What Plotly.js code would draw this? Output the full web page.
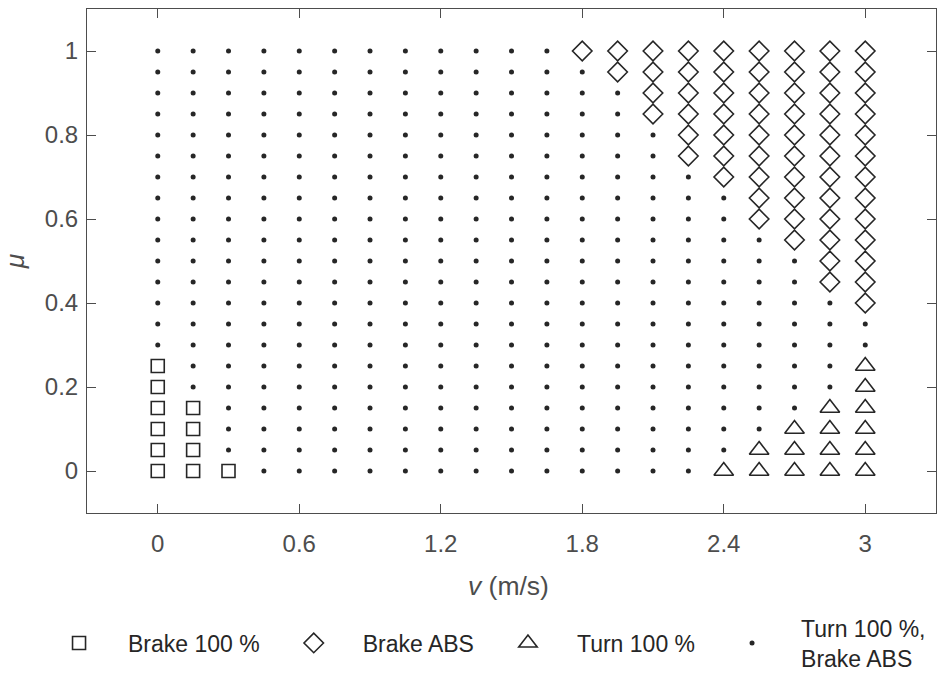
<!DOCTYPE html>
<html><head><meta charset="utf-8">
<script src="https://cdn.plot.ly/plotly-3.0.1.min.js"></script>
<style>html,body{margin:0;padding:0;background:#fff;} #chart{width:937px;height:677px;}</style>
</head><body><div id="chart"></div>
<script>
// grid of simulated speeds and friction coefficients
const vGrid = [0, 0.15, 0.3, 0.45, 0.6, 0.75, 0.9, 1.05, 1.2, 1.35, 1.5, 1.65, 1.8, 1.95, 2.1, 2.25, 2.4, 2.55, 2.7, 2.85, 3.0];
const muGrid = [0, 0.05, 0.1, 0.15, 0.2, 0.25, 0.3, 0.35, 0.4, 0.45, 0.5, 0.55, 0.6, 0.65, 0.7, 0.75, 0.8, 0.85, 0.9, 0.95, 1.0];

// Brake 100 %
const brakeFullV  = [0, 0, 0, 0, 0, 0, 0.15, 0.15, 0.15, 0.15, 0.3];
const brakeFullMu = [0, 0.05, 0.1, 0.15, 0.2, 0.25, 0, 0.05, 0.1, 0.15, 0];

// Brake ABS
const brakeAbsV = [
  1.8,
  1.95, 1.95,
  2.1, 2.1, 2.1, 2.1,
  2.25, 2.25, 2.25, 2.25, 2.25, 2.25,
  2.4, 2.4, 2.4, 2.4, 2.4, 2.4, 2.4,
  2.55, 2.55, 2.55, 2.55, 2.55, 2.55, 2.55, 2.55, 2.55,
  2.7, 2.7, 2.7, 2.7, 2.7, 2.7, 2.7, 2.7, 2.7, 2.7,
  2.85, 2.85, 2.85, 2.85, 2.85, 2.85, 2.85, 2.85, 2.85, 2.85, 2.85, 2.85,
  3.0, 3.0, 3.0, 3.0, 3.0, 3.0, 3.0, 3.0, 3.0, 3.0, 3.0, 3.0, 3.0
];
const brakeAbsMu = [
  1.0,
  0.95, 1.0,
  0.85, 0.9, 0.95, 1.0,
  0.75, 0.8, 0.85, 0.9, 0.95, 1.0,
  0.7, 0.75, 0.8, 0.85, 0.9, 0.95, 1.0,
  0.6, 0.65, 0.7, 0.75, 0.8, 0.85, 0.9, 0.95, 1.0,
  0.55, 0.6, 0.65, 0.7, 0.75, 0.8, 0.85, 0.9, 0.95, 1.0,
  0.45, 0.5, 0.55, 0.6, 0.65, 0.7, 0.75, 0.8, 0.85, 0.9, 0.95, 1.0,
  0.4, 0.45, 0.5, 0.55, 0.6, 0.65, 0.7, 0.75, 0.8, 0.85, 0.9, 0.95, 1.0
];

// Turn 100 %
const turnFullV  = [2.4, 2.55, 2.55, 2.7, 2.7, 2.7, 2.85, 2.85, 2.85, 2.85, 3.0, 3.0, 3.0, 3.0, 3.0, 3.0];
const turnFullMu = [0, 0, 0.05, 0, 0.05, 0.1, 0, 0.05, 0.1, 0.15, 0, 0.05, 0.1, 0.15, 0.2, 0.25];

// tick labels
const xTickVals = [0, 0.6, 1.2, 1.8, 2.4, 3];
const xTickText = ['0', '0.6', '1.2', '1.8', '2.4', '3'];
const yTickVals = [0, 0.2, 0.4, 0.6, 0.8, 1];
const yTickText = ['0', '0.2', '0.4', '0.6', '0.8', '1'];

const seriesNames = ['Brake 100 %', 'Brake ABS', 'Turn 100 %', 'Turn 100 %,<br>Brake ABS'];

// remaining grid points: Turn 100 %, Brake ABS
const key = (v, m) => v.toFixed(2) + '_' + m.toFixed(2);
const taken = new Set();
[[brakeFullV, brakeFullMu], [brakeAbsV, brakeAbsMu], [turnFullV, turnFullMu]].forEach(([vs, ms]) => {
  vs.forEach((v, i) => taken.add(key(v, ms[i])));
});
const bothV = [], bothMu = [];
vGrid.forEach(v => muGrid.forEach(m => {
  if (!taken.has(key(v, m))) { bothV.push(v); bothMu.push(m); }
}));

const ink = '#262626';
const axisCol = '#4d4d4d';
const font = 'Liberation Sans, Arial, Helvetica, sans-serif';

const traces = [
  {x: brakeFullV, y: brakeFullMu, name: seriesNames[0], type: 'scatter', mode: 'markers', legend: 'legend',
   marker: {symbol: 'square-open', size: 13, color: ink, line: {width: 1.6, color: ink}}},
  {x: brakeAbsV, y: brakeAbsMu, name: seriesNames[1], type: 'scatter', mode: 'markers', legend: 'legend',
   marker: {symbol: 'diamond-open', size: 15, color: ink, line: {width: 1.6, color: ink}}},
  {x: turnFullV, y: turnFullMu, name: seriesNames[2], type: 'scatter', mode: 'markers', legend: 'legend',
   marker: {symbol: 'triangle-up-open', size: 17, color: ink, line: {width: 1.6, color: ink}}},
  {x: bothV, y: bothMu, name: seriesNames[3], type: 'scatter', mode: 'markers', legend: 'legend2',
   marker: {symbol: 'circle', size: 5, color: ink, line: {width: 0}}}
];

const axisBase = {
  ticks: 'inside', ticklen: 9, tickwidth: 1, tickcolor: axisCol,
  showline: true, linecolor: axisCol, linewidth: 1, mirror: 'allticks',
  showgrid: false, zeroline: false,
  tickfont: {family: font, size: 24, color: '#4d4d4d'}
};

const legendBase = {
  orientation: 'h', xanchor: 'left', y: -0.258, yanchor: 'middle',
  itemwidth: 88, bgcolor: 'rgba(0,0,0,0)', borderwidth: 0,
  font: {family: font, size: 23, color: ink}, valign: 'middle'
};

const layout = {
  width: 937, height: 677,
  margin: {l: 87, r: 1, t: 9, b: 164, pad: 0, autoexpand: false},
  paper_bgcolor: '#ffffff', plot_bgcolor: '#ffffff',
  font: {family: font, size: 24, color: '#4d4d4d'},
  showlegend: true,
  xaxis: Object.assign({}, axisBase, {
    range: [-0.3, 3.3], tickmode: 'array', tickvals: xTickVals, ticktext: xTickText,
    ticklabelstandoff: 9
  }),
  yaxis: Object.assign({}, axisBase, {
    range: [-0.1, 1.1], tickmode: 'array', tickvals: yTickVals, ticktext: yTickText,
    ticklabelstandoff: 3,
    title: {text: '<i>μ</i>', font: {family: font, size: 26.5, color: '#4d4d4d'}, standoff: 12}
  }),
  annotations: [{
    text: '<i>v</i> (m/s)', xref: 'paper', yref: 'paper', x: 0.497, y: -0.145,
    xanchor: 'center', yanchor: 'middle', showarrow: false,
    font: {family: font, size: 26.5, color: '#4d4d4d'}
  }],
  legend: Object.assign({}, legendBase, {x: -0.0671}),
  legend2: Object.assign({}, legendBase, {x: 0.7256})
};

Plotly.newPlot('chart', traces, layout, {displayModeBar: false, staticPlot: true});
</script>
</body></html>
